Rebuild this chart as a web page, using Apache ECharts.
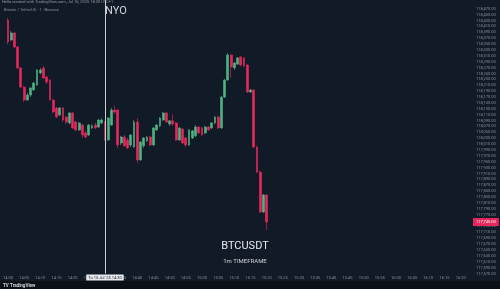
<!DOCTYPE html>
<html><head><meta charset="utf-8">
<script src="https://cdn.jsdelivr.net/npm/echarts@6/dist/echarts.min.js"></script>
<style>html,body{margin:0;padding:0;background:#111a27;}#c{width:500px;height:289px;}</style>
</head><body><div id="c"></div>
<script>
// 1-minute candles, BTCUSDT, starting 14:00
const startHour = 14, startMinute = 0, slotCount = 144;
const opens = [118432,118364,118388,118340,118269,118204,118160,118177,118194,118211,
118252,118269,118238,118228,118160,118133,118109,118133,118102,118082,
118116,118085,118058,118075,118048,118041,118065,118075,118068,118082,
118085,118024,118075,118126,118126,118014,118034,118024,118007,118000,
118085,117956,118004,118021,118034,118007,118058,118072,118092,118116,
118078,118089,118082,118024,118061,118031,118007,118031,118038,118068,
118065,118048,118068,118065,118082,118102,118065,118170,118228,118313,
118269,118282,118306,118303,118279,118187,118194,118000,117915,117779,
117837];
const closes = [118357,118388,118340,118269,118204,118160,118177,118201,118218,118262,
118262,118235,118221,118160,118119,118102,118133,118092,118085,118116,
118065,118058,118082,118041,118034,118075,118072,118065,118092,118092,
118024,118099,118126,118119,118007,118034,118004,117997,118041,118085,
117956,118017,118031,118034,118007,118065,118075,118099,118116,118085,
118089,118078,118024,118065,118014,118007,118058,118055,118068,118048,
118041,118068,118058,118082,118102,118065,118170,118228,118313,118272,
118286,118303,118279,118276,118187,118194,118000,117915,117779,117837,
117745];
const lows = [118350,118361,118337,118265,118201,118153,118157,118170,118191,118208,
118248,118231,118214,118157,118116,118099,118106,118085,118078,118078,
118061,118055,118055,118031,118031,118038,118061,118061,118065,118078,
118021,118021,118072,118112,117997,118007,118000,117993,118000,117997,
117946,117953,117997,118017,118004,118004,118055,118068,118089,118082,
118072,118072,118021,118021,118010,118000,118004,118027,118034,118044,
118038,118044,118055,118061,118078,118061,118061,118167,118225,118235,
118262,118279,118276,118272,118184,118184,117997,117912,117776,117776,
117718];
const highs = [118439,118395,118391,118344,118272,118208,118184,118204,118221,118265,
118269,118276,118242,118231,118163,118136,118136,118136,118106,118119,
118119,118089,118085,118078,118055,118078,118078,118082,118095,118099,
118089,118102,118133,118140,118129,118038,118041,118031,118044,118092,
118099,118021,118034,118038,118038,118068,118078,118102,118119,118119,
118092,118112,118085,118068,118065,118034,118061,118058,118075,118072,
118068,118072,118072,118085,118106,118106,118174,118231,118320,118316,
118289,118306,118310,118306,118282,118197,118197,118004,117919,117840,
117840];
const nyoTime = '14:30';
const nyoLabel = "Tu 15 Jul '25 14:30";
const lastPrice = 117745;
const priceMin = 117570, priceMax = 118500, priceStep = 20, priceLabelTop = 118480;

const categories = [];
for (let i = 0; i < slotCount; i++) {
  const t = startHour * 60 + startMinute + i;
  categories.push(String(Math.floor(t / 60)).padStart(2, '0') + ':' + String(t % 60).padStart(2, '0'));
}
const candles = opens.map((o, i) => [o, closes[i], lows[i], highs[i]]);
const fmtPrice = v => v.toLocaleString('en-US', {minimumFractionDigits: 2, maximumFractionDigits: 2});

const RED = '#e8265e', GREEN = '#4fb383';
const FONT = 'Roboto';
const chart = echarts.init(document.getElementById('c'), null, {renderer: 'canvas'});
chart.setOption({
  animation: false,
  backgroundColor: '#111a27',
  textStyle: {fontFamily: FONT},
  title: [
    {text: 'Hello created with TradingView.com, Jul 16, 2025 18:30 UTC+1', left: 2, top: 0, padding: 0,
     textStyle: {fontSize: 4, color: '#9598a1', fontWeight: 'normal', fontFamily: FONT}},
    {text: 'Bitcoin / TetherUS · 1 · Binance', left: 4, top: 8, padding: 0,
     textStyle: {fontSize: 4, color: '#8a8e99', fontWeight: 'normal', fontFamily: FONT}},
    {text: 'NYO', left: 105, top: 6, padding: 0,
     textStyle: {fontSize: 11, color: '#d1d4dc', fontWeight: 'normal', fontFamily: FONT}},
    {text: 'BTCUSDT', left: 245, top: 241, padding: 0, textAlign: 'center',
     textStyle: {fontSize: 11, color: '#e6e8ee', fontWeight: 'normal', fontFamily: FONT}},
    {text: '1m TIMEFRAME', left: 245, top: 258, padding: 0, textAlign: 'center',
     textStyle: {fontSize: 6, color: '#d1d4dc', fontWeight: 'normal', fontFamily: FONT}},
    {text: 'TradingView', left: 10, top: 283, padding: 0,
     textStyle: {fontSize: 4.5, color: '#d1d4dc', fontWeight: 'bold', fontFamily: FONT}}
  ],
  graphic: [
    {type: 'rect', left: 0, top: 281, shape: {width: 500, height: 8}, style: {fill: '#0b0f16'}, z: -1},
    {type: 'text', left: 3, top: 283, style: {text: 'TV', fontSize: 4.5, fill: '#d1d4dc', fontWeight: 'bold', fontFamily: FONT}}
  ],
  grid: {left: 2.4, right: 28, top: 0, bottom: 289 - 273.5},
  xAxis: {
    type: 'category', data: categories, boundaryGap: true,
    axisLine: {show: false}, axisTick: {show: false}, splitLine: {show: false},
    axisLabel: {interval: 4, fontSize: 4, color: '#8a8e99', margin: 2, fontFamily: FONT}
  },
  yAxis: {
    type: 'value', position: 'right', min: priceMin, max: priceMax, interval: priceStep, scale: true,
    axisLine: {show: false}, axisTick: {show: false}, splitLine: {show: false},
    axisLabel: {
      fontSize: 4, color: '#8a8e99', margin: 4, fontFamily: FONT, showMaxLabel: false,
      formatter: v => v > priceLabelTop ? '' : fmtPrice(v)
    }
  },
  series: [{
    type: 'candlestick', data: candles, barWidth: '72%',
    itemStyle: {color: GREEN, color0: RED, borderColor: GREEN, borderColor0: RED, borderWidth: 0.6},
    markLine: {
      symbol: 'none', silent: true, animation: false,
      data: [
        {xAxis: nyoTime,
         lineStyle: {color: '#c9ccd4', width: 1, type: 'solid'},
         label: {show: true, position: 'start', distance: 1, formatter: nyoLabel, fontSize: 4,
                 color: '#131722', backgroundColor: '#e6e8ee', padding: [1, 2], fontFamily: FONT}},
        {yAxis: lastPrice,
         lineStyle: {color: 'rgba(0,0,0,0)', width: 0.5, type: 'dotted'},
         label: {show: true, position: 'end', distance: 1,
                 formatter: fmtPrice(lastPrice),
                 fontSize: 4, color: '#ffffff', backgroundColor: RED, padding: [2, 3], fontFamily: FONT}}
      ]
    }
  }]
});
</script></body></html>
